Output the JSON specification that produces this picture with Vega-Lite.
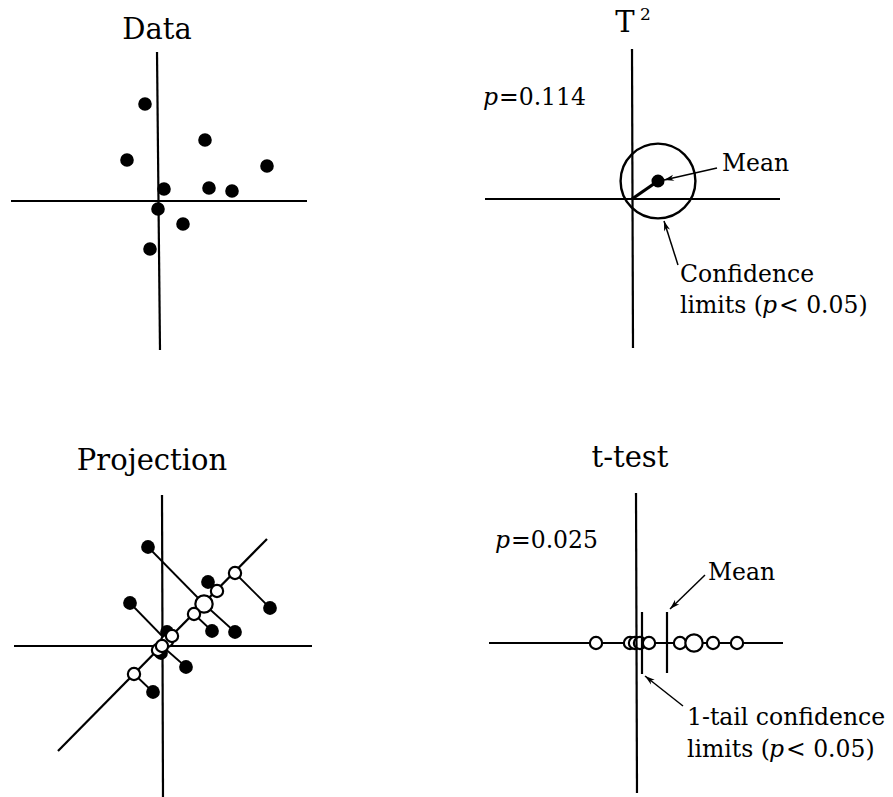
{
  "$schema": "https://vega.github.io/schema/vega-lite/v6.json",
  "padding": 0,
  "background": "white",
  "config": {"view": {"stroke": null}, "concat": {"spacing": 0}},
  "datasets": {
    "panel_data": [
      {"kind": "axis", "x": -147, "y": 0, "x2": 149, "y2": 0},
      {"kind": "axis", "x": -1, "y": 149, "x2": 2, "y2": -149},
      {"kind": "dot", "x": -13, "y": 97},
      {"kind": "dot", "x": -31, "y": 41},
      {"kind": "dot", "x": 47, "y": 61},
      {"kind": "dot", "x": 109, "y": 35},
      {"kind": "dot", "x": 6, "y": 12},
      {"kind": "dot", "x": 51, "y": 13},
      {"kind": "dot", "x": 74, "y": 10},
      {"kind": "dot", "x": 0, "y": -8},
      {"kind": "dot", "x": 25, "y": -23},
      {"kind": "dot", "x": -8, "y": -48},
      {"kind": "title", "x": -1, "y": 162, "label": "Data"}
    ],
    "panel_t2": [
      {"kind": "axis", "x": -147, "y": 0, "x2": 148, "y2": 0},
      {"kind": "axis", "x": 0, "y": 150, "x2": 1, "y2": -149},
      {"kind": "limit", "x": 26, "y": 18},
      {"kind": "vector", "x": 0, "y": 0, "x2": 26, "y2": 18},
      {"kind": "mean", "x": 26, "y": 18},
      {"kind": "leader", "x": 85, "y": 31, "x2": 32, "y2": 19},
      {"kind": "leader", "x": 46, "y": -66, "x2": 32, "y2": -22},
      {"kind": "head", "x": 32, "y": 19, "heading": 257},
      {"kind": "head", "x": 32, "y": -22, "heading": 342},
      {"kind": "title", "x": -7, "y": 167, "label": "T"},
      {"kind": "sup", "x": 8, "y": 179, "label": "2"},
      {"kind": "note", "x": 90, "y": 28, "label": "Mean"},
      {"kind": "note", "x": 48, "y": -83, "label": "Confidence"},
      {"kind": "note", "x": 48, "y": -114, "label": "limits ("},
      {"kind": "note", "x": 147, "y": -114, "label": "< 0.05)"},
      {"kind": "note", "x": -133, "y": 94, "label": "=0.114"},
      {"kind": "ital", "x": -149, "y": 94, "label": "p"},
      {"kind": "ital", "x": 130, "y": -114, "label": "p"}
    ],
    "panel_projection": [
      {"kind": "axis", "x": -148, "y": 0, "x2": 150, "y2": 0},
      {"kind": "axis", "x": 0, "y": 151, "x2": 1, "y2": -151},
      {"kind": "axis", "x": -104, "y": -105, "x2": 105, "y2": 107},
      {"kind": "link", "x": -14, "y": 99, "x2": 42, "y2": 42},
      {"kind": "link", "x": -32, "y": 43, "x2": 5, "y2": 5},
      {"kind": "link", "x": 46, "y": 64, "x2": 55, "y2": 55},
      {"kind": "link", "x": 108, "y": 38, "x2": 73, "y2": 73},
      {"kind": "link", "x": 5, "y": 14, "x2": 10, "y2": 10},
      {"kind": "link", "x": 50, "y": 15, "x2": 32, "y2": 32},
      {"kind": "link", "x": 73, "y": 14, "x2": 42, "y2": 42},
      {"kind": "link", "x": -1, "y": -7, "x2": -4, "y2": -4},
      {"kind": "link", "x": 24, "y": -21, "x2": 0, "y2": 0},
      {"kind": "link", "x": -9, "y": -46, "x2": -28, "y2": -28},
      {"kind": "dot", "x": -14, "y": 99},
      {"kind": "dot", "x": -32, "y": 43},
      {"kind": "dot", "x": 46, "y": 64},
      {"kind": "dot", "x": 108, "y": 38},
      {"kind": "dot", "x": 5, "y": 14},
      {"kind": "dot", "x": 50, "y": 15},
      {"kind": "dot", "x": 73, "y": 14},
      {"kind": "dot", "x": -1, "y": -7},
      {"kind": "dot", "x": 24, "y": -21},
      {"kind": "dot", "x": -9, "y": -46},
      {"kind": "open", "x": 42, "y": 42},
      {"kind": "open", "x": 5, "y": 5},
      {"kind": "open", "x": 55, "y": 55},
      {"kind": "open", "x": 73, "y": 73},
      {"kind": "open", "x": 10, "y": 10},
      {"kind": "open", "x": 32, "y": 32},
      {"kind": "open", "x": 42, "y": 42},
      {"kind": "open", "x": -4, "y": -4},
      {"kind": "open", "x": 0, "y": 0},
      {"kind": "open", "x": -28, "y": -28},
      {"kind": "title", "x": -10, "y": 176, "label": "Projection"}
    ],
    "panel_ttest": [
      {"kind": "axis", "x": -147, "y": 0, "x2": 147, "y2": 0},
      {"kind": "open", "x": -40, "y": 0},
      {"kind": "open", "x": -6, "y": 0},
      {"kind": "open", "x": -1, "y": 0},
      {"kind": "open", "x": 4, "y": 0},
      {"kind": "open", "x": 13, "y": 0},
      {"kind": "open", "x": 44, "y": 0},
      {"kind": "open", "x": 58, "y": 0},
      {"kind": "open", "x": 58, "y": 0},
      {"kind": "open", "x": 77, "y": 0},
      {"kind": "open", "x": 101, "y": 0},
      {"kind": "bar", "x": 0, "y": 150, "x2": 1, "y2": -150},
      {"kind": "bar", "x": 31, "y": -30, "x2": 31, "y2": 31},
      {"kind": "bar", "x": 6, "y": -31, "x2": 6, "y2": 31},
      {"kind": "leader", "x": 69, "y": 68, "x2": 34, "y2": 34},
      {"kind": "leader", "x": 47, "y": -63, "x2": 9, "y2": -33},
      {"kind": "head", "x": 34, "y": 34, "heading": 226},
      {"kind": "head", "x": 9, "y": -33, "heading": 308},
      {"kind": "title", "x": -6, "y": 176, "label": "t-test"},
      {"kind": "note", "x": -125, "y": 95, "label": "=0.025"},
      {"kind": "note", "x": 72, "y": 63, "label": "Mean"},
      {"kind": "note", "x": 51, "y": -82, "label": "1-tail confidence"},
      {"kind": "note", "x": 51, "y": -114, "label": "limits ("},
      {"kind": "note", "x": 150, "y": -114, "label": "< 0.05)"},
      {"kind": "ital", "x": -141, "y": 95, "label": "p"},
      {"kind": "ital", "x": 133, "y": -114, "label": "p"}
    ]
  },
  "vconcat": [
    {
      "spacing": 0,
      "hconcat": [
        {
          "width": 440,
          "height": 400,
          "data": {"name": "panel_data"},
          "encoding": {
            "x": {"field": "x", "type": "quantitative", "axis": null, "scale": {"domain": [-158, 282], "nice": false, "zero": false}},
            "y": {"field": "y", "type": "quantitative", "axis": null, "scale": {"domain": [-199, 201], "nice": false, "zero": false}}
          },
          "layer": [
            {
              "transform": [{"filter": "datum.kind == 'axis'"}],
              "mark": {"type": "rule", "color": "black", "strokeWidth": 2.2},
              "encoding": {"x2": {"field": "x2"}, "y2": {"field": "y2"}}
            },
            {
              "transform": [{"filter": "datum.kind == 'dot'"}],
              "mark": {"type": "circle", "color": "black", "size": 185, "opacity": 1}
            },
            {
              "transform": [{"filter": "datum.kind == 'title'"}],
              "mark": {"type": "text", "font": "DejaVu Serif", "fontSize": 29, "align": "center", "baseline": "alphabetic", "color": "black"},
              "encoding": {"text": {"field": "label"}}
            }
          ]
        },
        {
          "width": 453,
          "height": 400,
          "data": {"name": "panel_t2"},
          "encoding": {
            "x": {"field": "x", "type": "quantitative", "axis": null, "scale": {"domain": [-192, 261], "nice": false, "zero": false}},
            "y": {"field": "y", "type": "quantitative", "axis": null, "scale": {"domain": [-201, 199], "nice": false, "zero": false}}
          },
          "layer": [
            {
              "transform": [{"filter": "datum.kind == 'axis'"}],
              "mark": {"type": "rule", "color": "black", "strokeWidth": 2.2},
              "encoding": {"x2": {"field": "x2"}, "y2": {"field": "y2"}}
            },
            {
              "transform": [{"filter": "datum.kind == 'limit'"}],
              "mark": {"type": "point", "shape": "circle", "filled": false, "stroke": "black", "strokeWidth": 2.4, "size": 5600, "opacity": 1}
            },
            {
              "transform": [{"filter": "datum.kind == 'vector'"}],
              "mark": {"type": "rule", "color": "black", "strokeWidth": 3.2},
              "encoding": {"x2": {"field": "x2"}, "y2": {"field": "y2"}}
            },
            {
              "transform": [{"filter": "datum.kind == 'mean'"}],
              "mark": {"type": "circle", "color": "black", "size": 170, "opacity": 1}
            },
            {
              "transform": [{"filter": "datum.kind == 'leader'"}],
              "mark": {"type": "rule", "color": "black", "strokeWidth": 1.5},
              "encoding": {"x2": {"field": "x2"}, "y2": {"field": "y2"}}
            },
            {
              "transform": [{"filter": "datum.kind == 'head'"}],
              "mark": {"type": "point", "shape": "M0,0L-0.65,2.1L0,1.5L0.65,2.1Z", "filled": true, "color": "black", "size": 90, "opacity": 1},
              "encoding": {"angle": {"field": "heading", "type": "quantitative", "scale": null}}
            },
            {
              "transform": [{"filter": "datum.kind == 'title'"}],
              "mark": {"type": "text", "font": "DejaVu Serif", "fontSize": 29, "align": "center", "baseline": "alphabetic", "color": "black"},
              "encoding": {"text": {"field": "label"}}
            },
            {
              "transform": [{"filter": "datum.kind == 'sup'"}],
              "mark": {"type": "text", "font": "DejaVu Serif", "fontSize": 17, "align": "left", "baseline": "alphabetic", "color": "black"},
              "encoding": {"text": {"field": "label"}}
            },
            {
              "transform": [{"filter": "datum.kind == 'note'"}],
              "mark": {"type": "text", "font": "DejaVu Serif", "fontSize": 23.5, "align": "left", "baseline": "alphabetic", "color": "black"},
              "encoding": {"text": {"field": "label"}}
            },
            {
              "transform": [{"filter": "datum.kind == 'ital'"}],
              "mark": {"type": "text", "font": "DejaVu Serif", "fontStyle": "italic", "fontSize": 23.5, "align": "left", "baseline": "alphabetic", "color": "black"},
              "encoding": {"text": {"field": "label"}}
            }
          ]
        }
      ]
    },
    {
      "spacing": 0,
      "hconcat": [
        {
          "width": 440,
          "height": 397,
          "data": {"name": "panel_projection"},
          "encoding": {
            "x": {"field": "x", "type": "quantitative", "axis": null, "scale": {"domain": [-162, 278], "nice": false, "zero": false}},
            "y": {"field": "y", "type": "quantitative", "axis": null, "scale": {"domain": [-151, 246], "nice": false, "zero": false}}
          },
          "layer": [
            {
              "transform": [{"filter": "datum.kind == 'axis'"}],
              "mark": {"type": "rule", "color": "black", "strokeWidth": 2.2},
              "encoding": {"x2": {"field": "x2"}, "y2": {"field": "y2"}}
            },
            {
              "transform": [{"filter": "datum.kind == 'link'"}],
              "mark": {"type": "rule", "color": "black", "strokeWidth": 1.8},
              "encoding": {"x2": {"field": "x2"}, "y2": {"field": "y2"}}
            },
            {
              "transform": [{"filter": "datum.kind == 'dot'"}],
              "mark": {"type": "circle", "color": "black", "size": 190, "opacity": 1}
            },
            {
              "transform": [
                {"filter": "datum.kind == 'open'"},
                {"aggregate": [{"op": "count", "as": "n"}], "groupby": ["x", "y"]}
              ],
              "mark": {"type": "point", "shape": "circle", "filled": true, "fill": "white", "stroke": "black", "strokeWidth": 2.2, "opacity": 1},
              "encoding": {"size": {"field": "n", "type": "quantitative", "legend": null, "scale": {"domain": [1, 2], "range": [150, 300]}}}
            },
            {
              "transform": [{"filter": "datum.kind == 'title'"}],
              "mark": {"type": "text", "font": "DejaVu Serif", "fontSize": 29, "align": "center", "baseline": "alphabetic", "color": "black"},
              "encoding": {"text": {"field": "label"}}
            }
          ]
        },
        {
          "width": 453,
          "height": 397,
          "data": {"name": "panel_ttest"},
          "encoding": {
            "x": {"field": "x", "type": "quantitative", "axis": null, "scale": {"domain": [-196, 257], "nice": false, "zero": false}},
            "y": {"field": "y", "type": "quantitative", "axis": null, "scale": {"domain": [-154, 243], "nice": false, "zero": false}}
          },
          "layer": [
            {
              "transform": [{"filter": "datum.kind == 'axis'"}],
              "mark": {"type": "rule", "color": "black", "strokeWidth": 2.2},
              "encoding": {"x2": {"field": "x2"}, "y2": {"field": "y2"}}
            },
            {
              "transform": [
                {"filter": "datum.kind == 'open'"},
                {"aggregate": [{"op": "count", "as": "n"}], "groupby": ["x", "y"]}
              ],
              "mark": {"type": "point", "shape": "circle", "filled": true, "fill": "white", "stroke": "black", "strokeWidth": 2.2, "opacity": 1},
              "encoding": {"size": {"field": "n", "type": "quantitative", "legend": null, "scale": {"domain": [1, 2], "range": [130, 210]}}}
            },
            {
              "transform": [{"filter": "datum.kind == 'bar'"}],
              "mark": {"type": "rule", "color": "black", "strokeWidth": 2.2},
              "encoding": {"x2": {"field": "x2"}, "y2": {"field": "y2"}}
            },
            {
              "transform": [{"filter": "datum.kind == 'leader'"}],
              "mark": {"type": "rule", "color": "black", "strokeWidth": 1.5},
              "encoding": {"x2": {"field": "x2"}, "y2": {"field": "y2"}}
            },
            {
              "transform": [{"filter": "datum.kind == 'head'"}],
              "mark": {"type": "point", "shape": "M0,0L-0.65,2.1L0,1.5L0.65,2.1Z", "filled": true, "color": "black", "size": 90, "opacity": 1},
              "encoding": {"angle": {"field": "heading", "type": "quantitative", "scale": null}}
            },
            {
              "transform": [{"filter": "datum.kind == 'title'"}],
              "mark": {"type": "text", "font": "DejaVu Serif", "fontSize": 29, "align": "center", "baseline": "alphabetic", "color": "black"},
              "encoding": {"text": {"field": "label"}}
            },
            {
              "transform": [{"filter": "datum.kind == 'note'"}],
              "mark": {"type": "text", "font": "DejaVu Serif", "fontSize": 23.5, "align": "left", "baseline": "alphabetic", "color": "black"},
              "encoding": {"text": {"field": "label"}}
            },
            {
              "transform": [{"filter": "datum.kind == 'ital'"}],
              "mark": {"type": "text", "font": "DejaVu Serif", "fontStyle": "italic", "fontSize": 23.5, "align": "left", "baseline": "alphabetic", "color": "black"},
              "encoding": {"text": {"field": "label"}}
            }
          ]
        }
      ]
    }
  ]
}
